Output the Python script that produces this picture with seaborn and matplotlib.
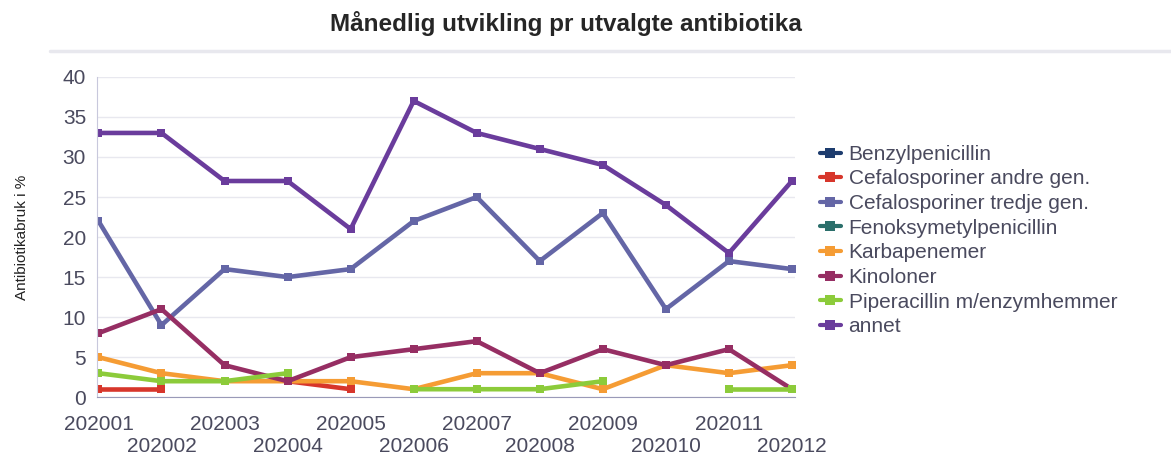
import numpy as np
import pandas as pd
import matplotlib
matplotlib.use("Agg")
import matplotlib.pyplot as plt
from matplotlib.lines import Line2D
import seaborn as sns

# ─── DATA ─────────────────────────────────────────────────
months = ["202001", "202002", "202003", "202004", "202005", "202006",
          "202007", "202008", "202009", "202010", "202011", "202012"]
nan = np.nan

benzylpenicillin = [nan] * 12
cefalo_andre = [1, 1, nan, 2, 1, nan, nan, nan, nan, nan, nan, nan]
cefalo_tredje = [22, 9, 16, 15, 16, 22, 25, 17, 23, 11, 17, 16]
fenoksymetyl = [nan] * 12
karbapenemer = [5, 3, 2, 2, 2, 1, 3, 3, 1, 4, 3, 4]
kinoloner = [8, 11, 4, 2, 5, 6, 7, 3, 6, 4, 6, 1]
piperacillin = [3, 2, 2, 3, nan, 1, 1, 1, 2, nan, 1, 1]
annet = [33, 33, 27, 27, 21, 37, 33, 31, 29, 24, 18, 27]

series_names = ["Benzylpenicillin", "Cefalosporiner andre gen.",
                "Cefalosporiner tredje gen.", "Fenoksymetylpenicillin",
                "Karbapenemer", "Kinoloner", "Piperacillin m/enzymhemmer", "annet"]
series_values = [benzylpenicillin, cefalo_andre, cefalo_tredje, fenoksymetyl,
                 karbapenemer, kinoloner, piperacillin, annet]
colors = ["#1d3c6e", "#d7362b", "#6466a6", "#2b6f6b",
          "#f59c34", "#962e63", "#8ccb3a", "#6a3c9c"]

# long table, gaps split into separate segments so lines break at missing months
rows = []
for name, vals in zip(series_names, series_values):
    seg = 0
    for i, v in enumerate(vals):
        if np.isnan(v):
            seg += 1
            continue
        rows.append({"x": i, "verdi": v, "serie": name, "seg": f"{name}_{seg}"})
df = pd.DataFrame(rows)

# ─── PLOT ─────────────────────────────────────────────────
sns.set_style("white")
plt.rcParams["font.family"] = ["Liberation Sans", "DejaVu Sans"]

fig = plt.figure(figsize=(11.71, 4.55), dpi=100)
ax = fig.add_axes([0.083, 0.127, 0.596, 0.704])

palette = dict(zip(series_names, colors))
sns.lineplot(data=df, x="x", y="verdi", hue="serie", units="seg", estimator=None,
             palette=palette, hue_order=series_names, linewidth=3.3,
             marker="s", markersize=6, markeredgewidth=0, legend=False, ax=ax)

ax.set_xlim(-0.02, 11.05)
ax.set_ylim(0, 40)
ax.set_yticks(range(0, 41, 5))
ax.set_xticks(range(12))
ax.set_xticklabels([m if i % 2 == 0 else "\n" + m for i, m in enumerate(months)],
                   linespacing=1.2)
ax.grid(axis="y", color="#e8e8ef", linewidth=1)
ax.set_axisbelow(True)
for s in ["top", "right"]:
    ax.spines[s].set_visible(False)
ax.spines["left"].set_color("#c8c8dc")
ax.spines["bottom"].set_color("#9a9ab8")
ax.tick_params(axis="both", length=0, labelsize=15, colors="#4a4a5e")
ax.tick_params(axis="y", pad=8)
ax.tick_params(axis="x", pad=13)
ax.set_xlabel("")
ax.set_ylabel("Antibiotikabruk i %", fontsize=11, color="#222222")
ax.yaxis.set_label_coords(-0.097, 0.5)

fig.suptitle("Månedlig utvikling pr utvalgte antibiotika", fontsize=17.5,
             fontweight="bold", x=0.483, y=0.975)
# thin separator under the title
fig.add_artist(Line2D([0.043, 1.0], [0.888, 0.888], color="#e8e8ee", linewidth=2.5,
                      transform=fig.transFigure))

handles = [Line2D([0], [0], color=c, linewidth=3, marker="s", markersize=7,
                  markeredgewidth=0) for c in colors]
leg = fig.legend(handles, series_names, loc="upper left", bbox_to_anchor=(0.693, 0.70),
                 frameon=False, fontsize=15, handlelength=1.0, handletextpad=0.38,
                 labelspacing=0.27, borderaxespad=0)
for t in leg.get_texts():
    t.set_color("#4a4a5e")

plt.savefig("out.png", dpi=100)
plt.close()
